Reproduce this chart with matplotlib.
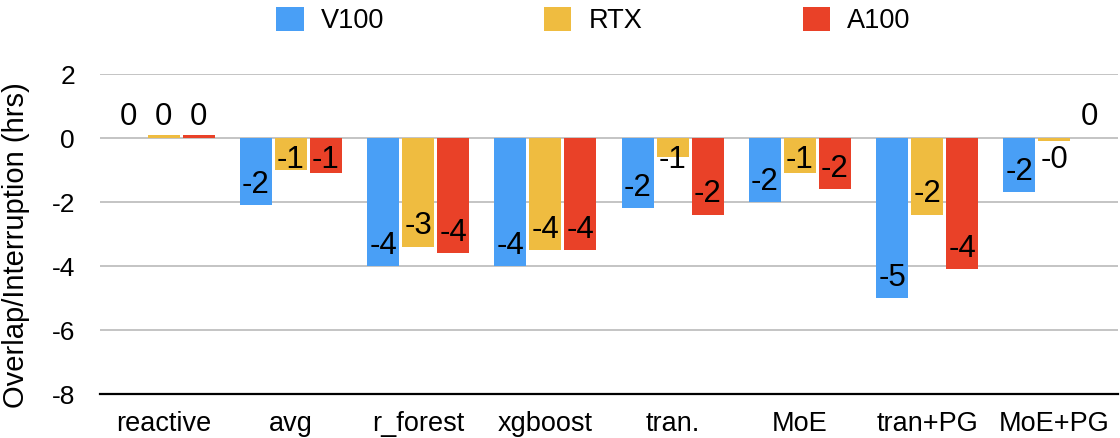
import matplotlib
matplotlib.use("Agg")
import matplotlib.pyplot as plt
import numpy as np

categories = ["reactive", "avg", "r_forest", "xgboost", "tran.", "MoE", "tran+PG", "MoE+PG"]
series_names = ["V100", "RTX", "A100"]
v100 = [0.0, -2.1, -4.0, -4.0, -2.2, -2.0, -5.0, -1.7]
rtx = [0.1, -1.0, -3.4, -3.5, -0.6, -1.1, -2.4, -0.08]
a100 = [0.1, -1.1, -3.6, -3.5, -2.4, -1.6, -4.1, 0.0]
yticks = [2, 0, -2, -4, -6, -8]

colors = ["#499FF6", "#EFBC40", "#E94128"]

plt.rcParams['font.family'] = ['Liberation Sans', 'DejaVu Sans']

fig = plt.figure(figsize=(11.2, 4.38), dpi=100)
ax = fig.add_axes([100/1120, 44/438, 1018/1120, 320/438])

x = np.arange(len(categories))
width = 0.25
offsets = [-0.275, 0.0, 0.275]
data = [v100, rtx, a100]

ax.set_ylim(-8, 2)
ax.set_xlim(-0.5, len(categories) - 0.5)
ax.set_yticks(yticks)
ax.set_yticklabels([str(t) for t in yticks])
ax.yaxis.grid(True, color="#BFBFBF", linewidth=1.3)
ax.set_axisbelow(True)

for s, vals in enumerate(data):
    ax.bar(x + offsets[s], vals, width, color=colors[s], label=series_names[s], zorder=2)
    for xi, v in zip(x + offsets[s], vals):
        txt = "{:.0f}".format(v)
        if v >= 0:
            y = 0.66
        else:
            y = min(v + 0.64, -0.69)
        ax.text(xi, y, txt, ha="center", va="center", fontsize=22.5, zorder=3)

for sp in ["top", "right", "left"]:
    ax.spines[sp].set_visible(False)
ax.spines["bottom"].set_color("black")
ax.spines["bottom"].set_linewidth(1.6)
ax.spines["bottom"].set_position(("data", -8))

ax.set_xticks(x)
ax.set_xticklabels(categories, fontsize=19.5)
ax.tick_params(axis="x", length=0, pad=12)
ax.tick_params(axis="y", length=0, pad=18, labelsize=19)
fig.text(16/1120, 1 - 245/438, "Overlap/Interruption (hrs)", rotation=90,
         ha="center", va="center", fontsize=21)

handles, labels = ax.get_legend_handles_labels()
fig.legend(handles, labels, loc="center", bbox_to_anchor=(0.53, 0.953), ncol=3,
           frameon=False, fontsize=19.5, handlelength=1.0, handleheight=1.0,
           handletextpad=0.65, columnspacing=5.9)

fig.savefig("out.png", dpi=100)
